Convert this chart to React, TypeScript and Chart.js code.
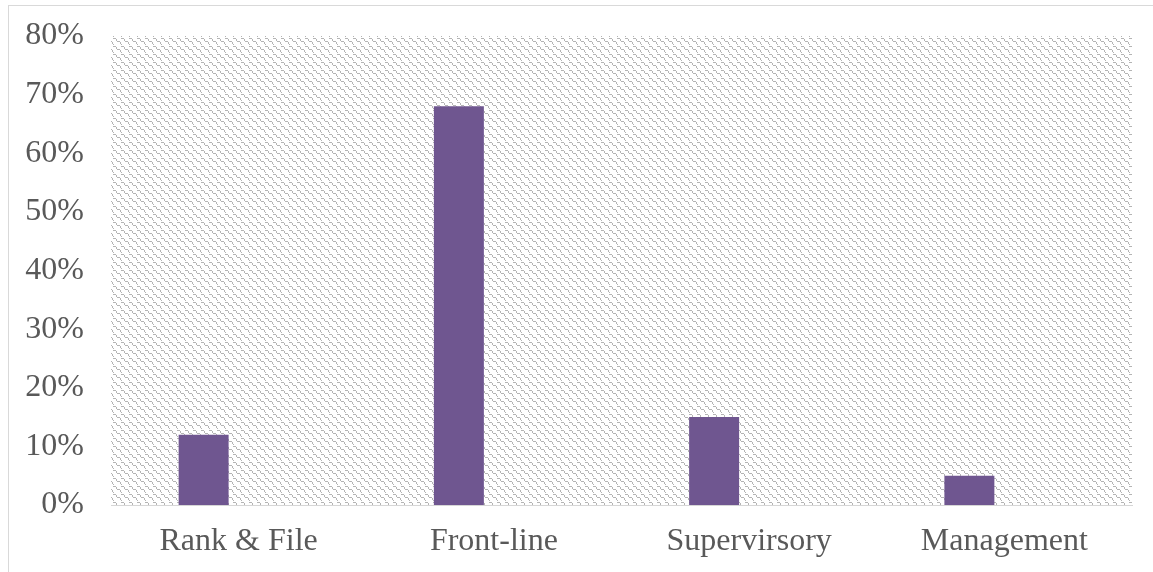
import React, { useEffect, useRef } from "react";
import { Chart, registerables } from "chart.js";

Chart.register(...registerables);

// Job levels and share of respondents (percent)
const categories = ["Rank & File", "Front-line", "Supervirsory", "Management"];
const shareValues = [12, 68, 15, 5];
// Second clustered series is empty, which shifts the visible bars left of each category centre
const emptySeries: (number | null)[] = [null, null, null, null];
const yTicks = [0, 10, 20, 30, 40, 50, 60, 70, 80];

const BAR_COLOR = "#6F5690";
const TEXT_COLOR = "#595959";
const FONT = "'Liberation Serif', 'Times New Roman', serif";

// 8x8 dashed diagonal tile used as the plot-area fill
const TILE = [
  "XXX.....",
  "...X....",
  "...X....",
  "....XXX.",
  ".......X",
  ".......X",
  "X.......",
  "........",
];

function makePattern(ctx: CanvasRenderingContext2D): CanvasPattern | string {
  const c = document.createElement("canvas");
  c.width = 8;
  c.height = 8;
  const t = c.getContext("2d");
  if (!t) return "#eeeeee";
  t.fillStyle = "#ffffff";
  t.fillRect(0, 0, 8, 8);
  t.fillStyle = "#b4b4b4";
  TILE.forEach((row, y) => {
    for (let x = 0; x < row.length; x++) {
      if (row[x] === "X") t.fillRect(x, y, 1, 1);
    }
  });
  return ctx.createPattern(c, "repeat") || "#eeeeee";
}

const plotFill = {
  id: "plotFill",
  beforeDraw(chart: any) {
    const { ctx, chartArea } = chart;
    if (!chartArea) return;
    ctx.save();
    ctx.fillStyle = makePattern(ctx);
    ctx.fillRect(
      chartArea.left,
      chartArea.top,
      chartArea.right - chartArea.left,
      chartArea.bottom - chartArea.top
    );
    ctx.restore();
  },
};

export default function App() {
  const ref = useRef<HTMLCanvasElement | null>(null);

  useEffect(() => {
    if (!ref.current) return;
    const chart = new Chart(ref.current, {
      type: "bar",
      data: {
        labels: categories,
        datasets: [
          {
            label: "Share",
            data: shareValues,
            backgroundColor: BAR_COLOR,
            categoryPercentage: 0.5485,
            barPercentage: 0.714,
          },
          {
            label: "Other",
            data: emptySeries,
            backgroundColor: BAR_COLOR,
            categoryPercentage: 0.5485,
            barPercentage: 0.714,
          },
        ],
      },
      options: {
        animation: false,
        responsive: false,
        maintainAspectRatio: false,
        layout: { padding: { top: 30, right: 21, left: 0, bottom: 0 } },
        plugins: {
          legend: { display: false },
          tooltip: { enabled: false },
        },
        scales: {
          x: {
            grid: { display: false, drawTicks: false },
            border: { display: true, color: "#d6d6d6", width: 1 },
            ticks: {
              color: TEXT_COLOR,
              font: { family: FONT, size: 32 },
              padding: 17,
              maxRotation: 0,
            },
            afterFit: (s: any) => {
              s.height = 67;
              s.paddingLeft = 0;
              s.paddingRight = 0;
            },
          },
          y: {
            min: 0,
            max: 80,
            afterBuildTicks: (s: any) => {
              s.ticks = yTicks.map((v) => ({ value: v }));
            },
            grid: { display: false, drawTicks: false },
            border: { display: false },
            ticks: {
              color: TEXT_COLOR,
              font: { family: FONT, size: 32 },
              padding: 27,
              callback: (v: any) => `${v}%`,
            },
            afterFit: (s: any) => {
              s.width = 102;
              s.paddingTop = 0;
              s.paddingBottom = 0;
            },
          },
        },
      },
      plugins: [plotFill],
    });
    return () => chart.destroy();
  }, []);

  return (
    <div
      style={{
        position: "fixed",
        left: 8,
        top: 5,
        width: 1145,
        height: 567,
        borderLeft: "1px solid #d9d9d9",
        borderTop: "1px solid #d9d9d9",
        background: "#ffffff",
      }}
    >
      <canvas ref={ref} width={1144} height={566} style={{ display: "block" }} />
    </div>
  );
}
